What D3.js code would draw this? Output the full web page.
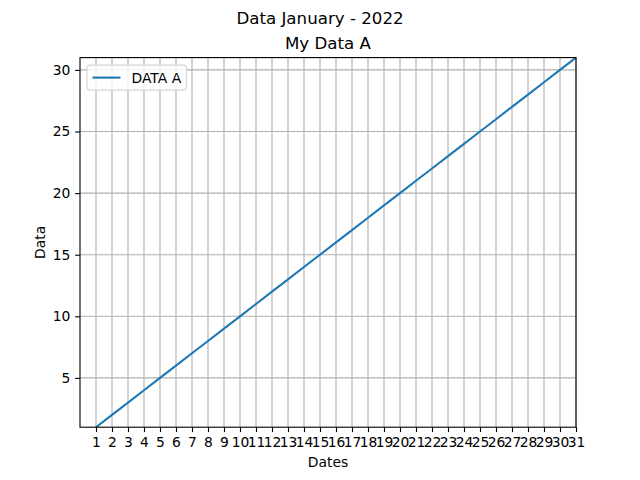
<!DOCTYPE html>
<html>
<head>
<meta charset="utf-8">
<script src="https://cdn.jsdelivr.net/npm/d3@7"></script>
<style>
  body { margin: 0; background: #fff; }
  text { font-family: "DejaVu Sans", sans-serif; fill: #000; }
</style>
</head>
<body>
<script>
// data: days of January 2022 and the values of series A
const dates = [1,2,3,4,5,6,7,8,9,10,11,12,13,14,15,16,17,18,19,20,21,22,23,24,25,26,27,28,29,30,31];
const dataA = [1,2,3,4,5,6,7,8,9,10,11,12,13,14,15,16,17,18,19,20,21,22,23,24,25,26,27,28,29,30,31];
const yTicks = [5, 10, 15, 20, 25, 30];

const w = 640, h = 480;
const mLeft = 80, mRight = 576, mTop = 57.6, mBottom = 427.2;
const fs = "13.89px", fsTitle = "16.67px";

const svg = d3.select("body").append("svg")
  .attr("width", w).attr("height", h);

const x = d3.scaleLinear().domain([0, 31]).range([mLeft, mRight]);
const y = d3.scaleLinear().domain([1, 31]).range([mBottom, mTop]);

// grid
svg.append("g").selectAll("line").data(dates).enter().append("line")
  .attr("x1", d => x(d)).attr("x2", d => x(d))
  .attr("y1", mTop).attr("y2", mBottom)
  .attr("stroke", "#b0b0b0").attr("stroke-width", 1.1);
svg.append("g").selectAll("line").data(yTicks).enter().append("line")
  .attr("x1", mLeft).attr("x2", mRight)
  .attr("y1", d => y(d)).attr("y2", d => y(d))
  .attr("stroke", "#b0b0b0").attr("stroke-width", 1.1);

// line
const line = d3.line().x((d, i) => x(dates[i])).y(d => y(d));
svg.append("path").datum(dataA)
  .attr("d", line).attr("fill", "none")
  .attr("stroke", "#1f77b4").attr("stroke-width", 2.08);

// axes
const xAxis = svg.append("g").attr("transform", `translate(0,${mBottom})`)
  .call(d3.axisBottom(x).tickValues(dates).tickSize(4.86).tickPadding(4.8));
const yAxis = svg.append("g").attr("transform", `translate(${mLeft},0)`)
  .call(d3.axisLeft(y).tickValues(yTicks).tickSize(4.86).tickPadding(4.8));
[xAxis, yAxis].forEach(a => {
  a.select(".domain").remove();
  a.selectAll("line").attr("stroke", "#000").attr("stroke-width", 1.1);
  a.selectAll("text").style("font-size", fs).style("font-family", "DejaVu Sans");
});

// frame
svg.append("rect")
  .attr("x", mLeft).attr("y", mTop)
  .attr("width", mRight - mLeft).attr("height", mBottom - mTop)
  .attr("fill", "none").attr("stroke", "#000").attr("stroke-width", 1.1);

// titles
svg.append("text").attr("x", w / 2).attr("y", 24)
  .attr("text-anchor", "middle").style("font-size", fsTitle)
  .text("Data January - 2022");
svg.append("text").attr("x", (mLeft + mRight) / 2).attr("y", mTop - 8.5)
  .attr("text-anchor", "middle").style("font-size", fsTitle)
  .text("My Data A");
svg.append("text").attr("x", (mLeft + mRight) / 2).attr("y", 467)
  .attr("text-anchor", "middle").style("font-size", fs)
  .text("Dates");
svg.append("text")
  .attr("transform", `translate(45,${(mTop + mBottom) / 2}) rotate(-90)`)
  .attr("text-anchor", "middle").style("font-size", fs)
  .text("Data");

// legend
const lg = svg.append("g").attr("transform", `translate(${mLeft + 7},${mTop + 7.5})`);
lg.append("rect").attr("width", 99.5).attr("height", 25).attr("rx", 3)
  .attr("fill", "#fff").attr("fill-opacity", 0.8)
  .attr("stroke", "#d6d6d6").attr("stroke-width", 1.1);
lg.append("line").attr("x1", 5.5).attr("x2", 33.5).attr("y1", 12.5).attr("y2", 12.5)
  .attr("stroke", "#1f77b4").attr("stroke-width", 2.08);
lg.append("text").attr("x", 44.5).attr("y", 17.5)
  .style("font-size", fs).text("DATA A");
</script>
</body>
</html>
